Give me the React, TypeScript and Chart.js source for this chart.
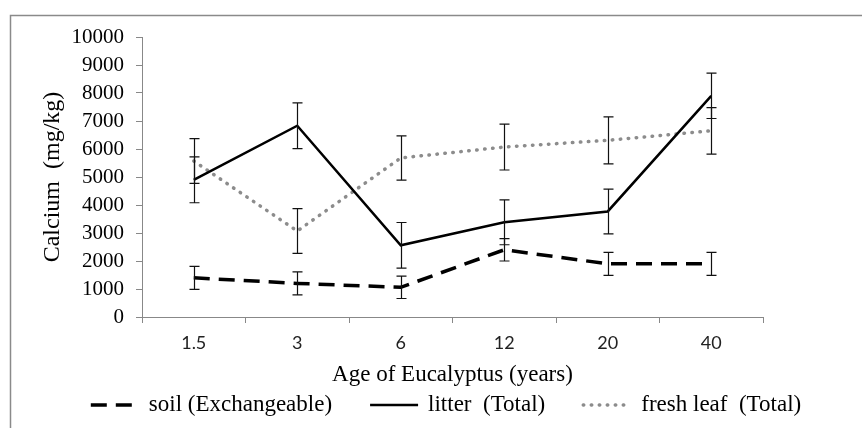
import React, { useEffect, useRef } from 'react';
import { Chart, registerables } from 'chart.js';

Chart.register(...registerables);

const categories = ['1.5', '3', '6', '12', '20', '40'];
const soilValues = [1400, 1200, 1060, 2400, 1900, 1900];
const soilErrors = [410, 410, 400, 400, 410, 410];
const litterValues = [4900, 6830, 2560, 3380, 3770, 7900];
const litterErrors = [820, 815, 815, 800, 800, 810];
const freshValues = [5570, 3070, 5680, 6070, 6310, 6650];
const freshErrors = [800, 800, 790, 820, 840, 830];

const yMin = 0;
const yMax = 10000;
const yStep = 1000;

const SERIF = "'Liberation Serif', 'Times New Roman', serif";
const SANS = "Lato, 'Open Sans', sans-serif";

export default function App() {
  const ref = useRef<HTMLCanvasElement>(null);

  useEffect(() => {
    if (!ref.current) return;

    const framePlugin = {
      id: 'frame',
      beforeDraw(chart: any) {
        const ctx = chart.ctx;
        ctx.save();
        ctx.fillStyle = '#ffffff';
        ctx.fillRect(0, 0, chart.width, chart.height);
        ctx.strokeStyle = '#8a8a8a';
        ctx.lineWidth = 1.5;
        ctx.beginPath();
        ctx.moveTo(10.5, chart.height);
        ctx.lineTo(10.5, 15.5);
        ctx.lineTo(chart.width, 15.5);
        ctx.stroke();
        ctx.restore();
      },
    };

    const errorBarPlugin = {
      id: 'errorBars',
      afterDatasetsDraw(chart: any) {
        const ctx = chart.ctx;
        const yScale = chart.scales.y;
        ctx.save();
        ctx.strokeStyle = '#111';
        ctx.lineWidth = 1.2;
        ctx.setLineDash([]);
        chart.data.datasets.forEach((ds: any, i: number) => {
          const meta = chart.getDatasetMeta(i);
          const errs: number[] = ds.errors || [];
          meta.data.forEach((pt: any, j: number) => {
            const v = ds.data[j];
            const e = errs[j];
            if (v == null || e == null) return;
            const x = Math.round(pt.x) + 0.5;
            const yTop = yScale.getPixelForValue(v + e);
            const yBot = yScale.getPixelForValue(v - e);
            ctx.beginPath();
            ctx.moveTo(x, yTop);
            ctx.lineTo(x, yBot);
            ctx.moveTo(x - 5, yTop);
            ctx.lineTo(x + 5, yTop);
            ctx.moveTo(x - 5, yBot);
            ctx.lineTo(x + 5, yBot);
            ctx.stroke();
          });
        });
        ctx.restore();
      },
    };

    const legendPlugin = {
      id: 'customLegend',
      afterDraw(chart: any) {
        const ctx = chart.ctx;
        const datasets = chart.data.datasets;
        ctx.save();
        ctx.font = `23px ${SERIF}`;
        ctx.textBaseline = 'middle';
        ctx.textAlign = 'left';
        const lineLen = 48;
        const lineGap = 10;
        const itemGap = 38;
        const widths = datasets.map((ds: any) => ctx.measureText(ds.label).width);
        const total =
          widths.reduce((a: number, b: number) => a + b, 0) +
          datasets.length * (lineLen + lineGap) +
          (datasets.length - 1) * itemGap;
        let x = 446 - total / 2;
        const y = 405;
        datasets.forEach((ds: any, i: number) => {
          ctx.save();
          ctx.strokeStyle = ds.borderColor;
          ctx.lineWidth = ds.borderWidth;
          ctx.lineCap = ds.borderCapStyle || 'butt';
          ctx.setLineDash(ds.borderDash || []);
          ctx.beginPath();
          ctx.moveTo(x, y);
          ctx.lineTo(x + lineLen, y);
          ctx.stroke();
          ctx.restore();
          x += lineLen + lineGap;
          ctx.fillStyle = '#000';
          ctx.fillText(ds.label, x, y);
          x += widths[i] + itemGap;
        });
        ctx.restore();
      },
    };

    const chart = new Chart(ref.current, {
      type: 'line',
      data: {
        labels: categories,
        datasets: [
          {
            label: 'soil (Exchangeable)',
            data: soilValues,
            errors: soilErrors,
            borderColor: '#000000',
            borderWidth: 3.5,
            borderDash: [16, 9],
            borderCapStyle: 'butt',
            pointRadius: 0,
            tension: 0,
            fill: false,
          } as any,
          {
            label: 'litter  (Total)',
            data: litterValues,
            errors: litterErrors,
            borderColor: '#000000',
            borderWidth: 2.5,
            borderDash: [],
            borderCapStyle: 'butt',
            pointRadius: 0,
            tension: 0,
            fill: false,
          } as any,
          {
            label: 'fresh leaf  (Total)',
            data: freshValues,
            errors: freshErrors,
            borderColor: '#8c8c8c',
            borderWidth: 3.5,
            borderDash: [0.5, 7.5],
            borderCapStyle: 'round',
            pointRadius: 0,
            tension: 0,
            fill: false,
          } as any,
        ],
      },
      options: {
        responsive: false,
        animation: false,
        layout: { padding: { left: 36, top: 37, right: 99, bottom: 36 } },
        plugins: {
          legend: { display: false },
          tooltip: { enabled: false },
        },
        scales: {
          x: {
            type: 'category',
            offset: true,
            grid: {
              offset: true,
              drawOnChartArea: false,
              drawTicks: true,
              tickLength: 6,
              color: '#888888',
            },
            border: { color: '#888888', width: 1 },
            ticks: {
              font: { family: SANS, size: 18 },
              color: '#222222',
              padding: 9,
              maxRotation: 0,
            },
            title: {
              display: true,
              text: 'Age of Eucalyptus (years)',
              font: { family: SERIF, size: 23 },
              color: '#000000',
              padding: { top: 2, bottom: 3 },
            },
            afterFit: (scale: any) => {
              scale.height = 75;
            },
          },
          y: {
            min: yMin,
            max: yMax,
            grid: {
              drawOnChartArea: false,
              drawTicks: true,
              tickLength: 6,
              color: '#888888',
            },
            border: { color: '#888888', width: 1 },
            ticks: {
              stepSize: yStep,
              autoSkip: false,
              font: { family: SERIF, size: 21, lineHeight: 1 },
              color: '#000000',
              padding: 12,
              callback: (v: any) => String(v),
            },
            title: {
              display: true,
              text: 'Calcium  (mg/kg)',
              font: { family: SERIF, size: 24 },
              color: '#000000',
              padding: { top: 2, bottom: 2 },
            },
            afterFit: (scale: any) => {
              scale.width = 106;
            },
          },
        },
      },
      plugins: [framePlugin, errorBarPlugin, legendPlugin],
    } as any);

    return () => chart.destroy();
  }, []);

  return (
    <div style={{ position: 'fixed', left: 0, top: 0, width: 862, height: 428, background: '#fff' }}>
      <canvas ref={ref} width={862} height={428} style={{ width: 862, height: 428, display: 'block' }} />
    </div>
  );
}
